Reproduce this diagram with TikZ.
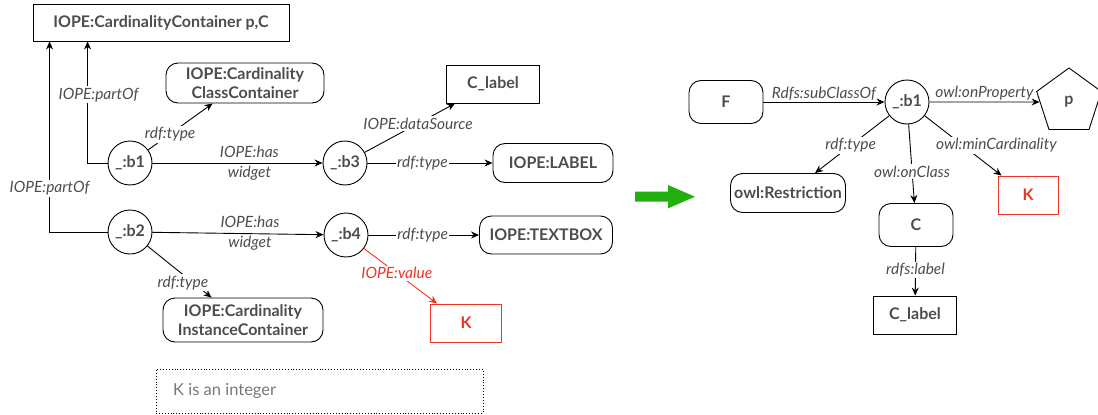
\documentclass[tikz,border=0pt]{standalone}
\usepackage{fontspec}
\setmainfont{Lato}
\usetikzlibrary{arrows.meta,shapes.geometric}
\definecolor{txt}{RGB}{77,77,77}
\definecolor{notetxt}{RGB}{120,120,120}
\definecolor{kred}{RGB}{238,52,36}
\definecolor{garrow}{RGB}{34,176,14}
\tikzset{
  every picture/.style={x=1pt,y=-1pt},
  base/.style={draw=black,line width=0.9pt,text=txt,font=\fontsize{16}{18.5}\selectfont\bfseries,align=center,inner sep=2pt},
  sqbox/.style={base,rectangle},
  rbox/.style={base,rectangle,rounded corners=12pt},
  blank/.style={base,circle,minimum size=44pt,inner sep=0pt},
  redbox/.style={base,rectangle,draw=kred,text=kred},
  pent/.style={base,regular polygon,regular polygon sides=5,minimum size=68pt,inner sep=0pt},
  notebox/.style={draw=black,line width=0.9pt,dotted,rectangle,minimum width=327pt,minimum height=44pt},
  arr/.style={draw=black,line width=0.9pt,-{Stealth[length=8pt,width=7pt]}},
  redarr/.style={arr,draw=kred},
  lbl/.style={font=\fontsize{15.5}{20}\selectfont\itshape,text=txt,fill=white,inner sep=1.5pt,align=center},
  lblclear/.style={lbl,fill=none}
}
\begin{document}
\begin{tikzpicture}
\useasboundingbox[fill=white] (0,0) rectangle (1098,415);
% ---------- left diagram ----------
\node[sqbox,minimum width=256pt,minimum height=37pt] (top) at (161,22.5) {IOPE:CardinalityContainer p,C};
\node[blank] (b1) at (130,163) {\_:b1};
\node[blank] (b2) at (130,232) {\_:b2};
\node[rbox,minimum width=158pt,minimum height=40pt] (ccc) at (245,83) {IOPE:Cardinality\\ClassContainer};
\node[rbox,minimum width=160pt,minimum height=44pt] (cic) at (243,320) {IOPE:Cardinality\\InstanceContainer};
\node[blank] (b3) at (345,163) {\_:b3};
\node[blank] (b4) at (346,235) {\_:b4};
\node[sqbox,minimum width=93pt,minimum height=38pt] (cl1) at (493,84) {C\_label};
\node[rbox,minimum width=120pt,minimum height=39pt] (lab) at (553,163) {IOPE:LABEL};
\node[rbox,minimum width=133pt,minimum height=38pt] (tb) at (546,235) {IOPE:TEXTBOX};
\node[redbox,minimum width=71pt,minimum height=38pt] (k1) at (466,323) {K};
\node[notebox] (note) at (319.5,391) {};
\node[text=notetxt,font=\fontsize{16.5}{19}\selectfont,anchor=west,inner sep=0pt] (notetext) at (173,391) {K is an integer};

\coordinate (t1) at ([xshift=55pt]top.south west);
\coordinate (t2) at ([xshift=17pt]top.south west);
\coordinate (ccct) at ([xshift=47pt]ccc.south west);
\coordinate (cict) at ([xshift=49pt]cic.north west);
\coordinate (cl1t) at ([xshift=9pt]cl1.south west);
\coordinate (k1t) at ([xshift=7pt]k1.north west);

\draw[arr] (b1.west) -| node[lbl,pos=0.78,xshift=11pt] {IOPE:partOf} (t1);
\draw[arr] (b2.west) -| node[lbl,pos=0.615] {IOPE:partOf} (t2);
\draw[arr] (b1) -- node[lbl,pos=0.34] {rdf:type} (ccct);
\draw[arr] (b2) -- node[lbl,pos=0.71,xshift=-10pt] {rdf:type} (cict);
\draw[arr] (b1) -- node[lblclear,pos=0.57] {IOPE:has\\widget} (b3);
\draw[arr] (b2) -- node[lblclear,pos=0.57] {IOPE:has\\widget} (b4);
\draw[arr] (b3) -- node[lbl,pos=0.59] {IOPE:dataSource} (cl1t);
\draw[arr] (b3) -- node[lbl,pos=0.44] {rdf:type} (lab);
\draw[arr] (b4) -- node[lbl,pos=0.49] {rdf:type} (tb);
\draw[redarr] (b4) -- node[lbl,text=kred,pos=0.45] {IOPE:value} (k1t);

% ---------- green arrow ----------
\fill[garrow] (635,191.7) -- (668,191.7) -- (668,185) -- (695,196.7) -- (668,208.4) -- (668,201.7) -- (635,201.7) -- cycle;

% ---------- right diagram ----------
\node[rbox,minimum width=74pt,minimum height=43pt] (F) at (726,102) {F};
\node[blank] (rb1) at (907,102) {\_:b1};
\node[pent] (p) at (1069,102) {p};
\node[rbox,minimum width=115pt,minimum height=39pt] (res) at (788,193) {owl:Restriction};
\node[rbox,minimum width=74pt,minimum height=43pt] (C) at (916,225) {C};
\node[sqbox,minimum width=83pt,minimum height=38pt] (cl2) at (915,315) {C\_label};
\node[redbox,minimum width=60pt,minimum height=38pt] (k2) at (1028,195) {K};

\coordinate (rest) at ([xshift=85pt]res.north west);
\coordinate (k2t) at ([xshift=4pt]k2.north west);

\draw[arr] (F) -- node[lblclear,above=1pt,inner sep=0pt] {Rdfs:subClassOf} (rb1);
\draw[arr] (rb1) -- node[lblclear,above=1pt,inner sep=0pt] {owl:onProperty} (p);
\draw[arr] (rb1) -- node[lbl,pos=0.52] {rdf:type} (rest);
\draw[arr] (rb1) -- node[lbl,pos=0.60] {owl:onClass} (C);
\draw[arr] (rb1) -- node[lbl,pos=0.49,xshift=34pt] {owl:minCardinality} (k2t);
\draw[arr] (C) -- node[lbl,pos=0.47] {rdfs:label} (cl2);
\end{tikzpicture}
\end{document}
